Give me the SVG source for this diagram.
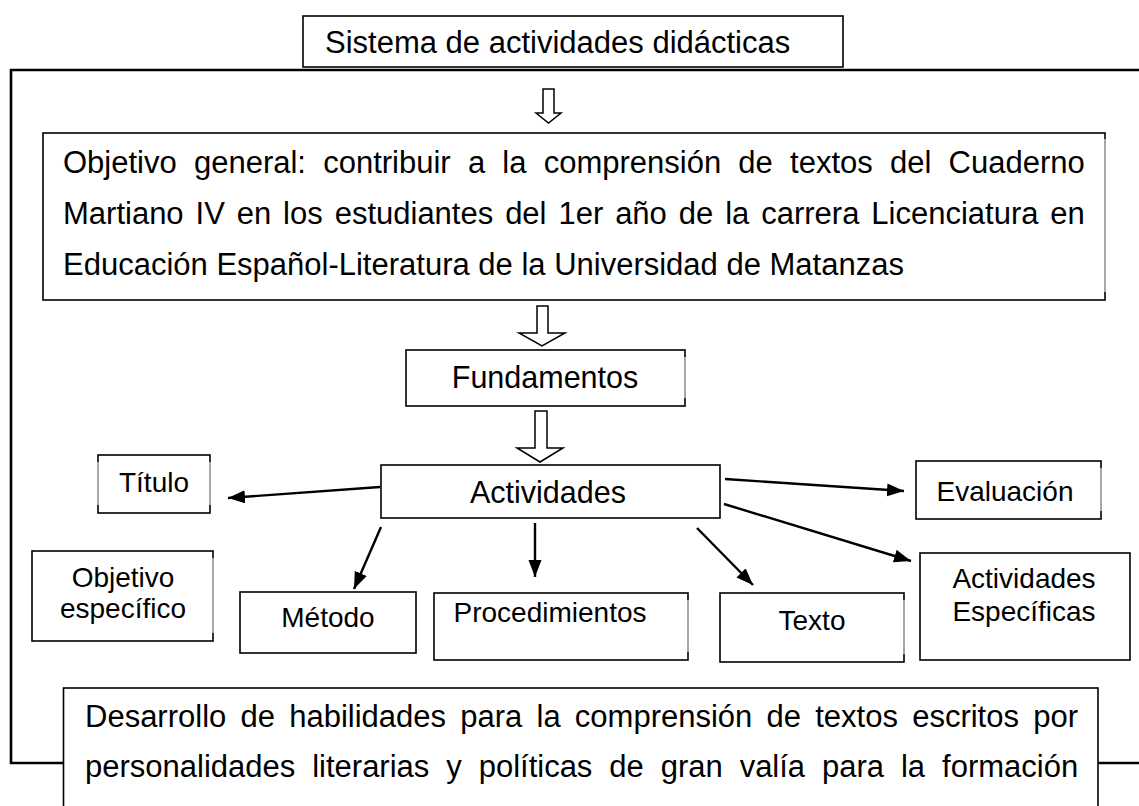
<svg xmlns="http://www.w3.org/2000/svg" width="1139" height="806" viewBox="0 0 1139 806">
<style>
  text { font-family: "Liberation Sans", Arial, sans-serif; fill: #000; }
  .big { font-size: 31px; }
  .mid { font-size: 30.5px; }
  .sm { font-size: 28px; }
  .c { text-anchor: middle; }
  .box { fill: #fff; stroke: #000; stroke-width: 1.6; }
  .light { stroke: #a8a8a8; stroke-width: 2; fill: none; }
  .frame { fill: none; stroke: #000; stroke-width: 2.6; }
  .hollow { fill: #fff; stroke: #000; stroke-width: 1.5; stroke-linejoin: miter; }
  .conn { fill: none; stroke: #000; stroke-width: 2.4; }
</style>
<defs>
  <marker id="ah" markerUnits="userSpaceOnUse" markerWidth="18" markerHeight="14" refX="17" refY="6.5" orient="auto">
    <path d="M0,0 L17,6.5 L0,13 z" fill="#000"/>
  </marker>
</defs>
<rect width="1139" height="806" fill="#fff"/>

<g id="frame">
  <path class="frame" d="M63.5,763 H11 V70 H1140"/>
  <path class="frame" d="M1098,763 H1140"/>
</g>

<g id="titulo-sistema">
  <rect class="box" x="303" y="16" width="540" height="51"/>
  <text class="big" x="325" y="53">Sistema de actividades didácticas</text>
</g>

<g id="objetivo-general">
  <rect class="box" x="43" y="133" width="1062" height="167"/>
  <line class="light" x1="1105" y1="139" x2="1105" y2="292"/>
  <text class="big" x="63" y="173" style="word-spacing:8.6px">Objetivo general: contribuir a la comprensión de textos del Cuaderno</text>
  <text class="big" x="63" y="224" style="word-spacing:3.3px">Martiano IV en los estudiantes del 1er año de la carrera Licenciatura en</text>
  <text class="big" x="63" y="275">Educación Español-Literatura de la Universidad de Matanzas</text>
</g>

<g id="fundamentos">
  <rect class="box" x="406" y="350" width="279" height="56"/>
  <line class="light" x1="685" y1="357" x2="685" y2="398"/>
  <text class="mid c" x="545" y="388">Fundamentos</text>
</g>

<g id="actividades">
  <rect class="box" x="381" y="465" width="339" height="53"/>
  <text class="mid c" x="548" y="503">Actividades</text>
</g>

<g id="titulo">
  <rect class="box" x="98" y="455" width="112" height="58"/>
  <line class="light" x1="98" y1="462" x2="98" y2="505"/>
  <line class="light" x1="210" y1="462" x2="210" y2="505"/>
  <text class="sm c" x="154" y="492">Título</text>
</g>

<g id="evaluacion">
  <rect class="box" x="916" y="461" width="185" height="58"/>
  <line class="light" x1="1101" y1="468" x2="1101" y2="511"/>
  <text class="sm c" x="1005" y="501">Evaluación</text>
</g>

<g id="objetivo-especifico">
  <rect class="box" x="32" y="551" width="181" height="90"/>
  <line class="light" x1="213" y1="558" x2="213" y2="633"/>
  <text class="sm c" x="123" y="587">Objetivo</text>
  <text class="sm c" x="123" y="618">específico</text>
</g>

<g id="metodo">
  <rect class="box" x="240" y="592" width="176" height="61"/>
  <text class="sm c" x="328" y="627">Método</text>
</g>

<g id="procedimientos">
  <rect class="box" x="434" y="593" width="254" height="67"/>
  <line class="light" x1="688" y1="600" x2="688" y2="652"/>
  <text class="sm c" x="550" y="622">Procedimientos</text>
</g>

<g id="texto">
  <rect class="box" x="720" y="593" width="184" height="69"/>
  <line class="light" x1="904" y1="600" x2="904" y2="654"/>
  <text class="sm c" x="812" y="630">Texto</text>
</g>

<g id="actividades-especificas">
  <rect class="box" x="920" y="553" width="210" height="107"/>
  <text class="sm c" x="1024" y="588">Actividades</text>
  <text class="sm c" x="1024" y="621">Específicas</text>
</g>

<g id="desarrollo">
  <rect class="box" x="63.5" y="688" width="1034.5" height="140"/>
  <text class="big" x="85" y="727" style="word-spacing:5.6px">Desarrollo de habilidades para la comprensión de textos escritos por</text>
  <text class="big" x="85" y="777" style="word-spacing:8.3px">personalidades literarias y políticas de gran valía para la formación</text>
</g>

<g id="connectors">
  <path class="hollow" d="M543,89 H554 V113 H561 L548.5,123 L536,113 H543 Z"/>
  <path class="hollow" d="M537,306 H548 V333 H565 L542,346 L519,333 H537 Z"/>
  <path class="hollow" d="M535,411 H547 V448 H563 L540,462 L517,448 H535 Z"/>
  <line class="conn" x1="380" y1="487" x2="228" y2="498" marker-end="url(#ah)"/>
  <line class="conn" x1="381" y1="527" x2="354" y2="589" marker-end="url(#ah)"/>
  <line class="conn" x1="535" y1="523" x2="535" y2="577" marker-end="url(#ah)"/>
  <line class="conn" x1="697" y1="528" x2="753" y2="585" marker-end="url(#ah)"/>
  <line class="conn" x1="725" y1="479" x2="904" y2="491" marker-end="url(#ah)"/>
  <line class="conn" x1="724" y1="504" x2="911" y2="561" marker-end="url(#ah)"/>
</g>
</svg>
